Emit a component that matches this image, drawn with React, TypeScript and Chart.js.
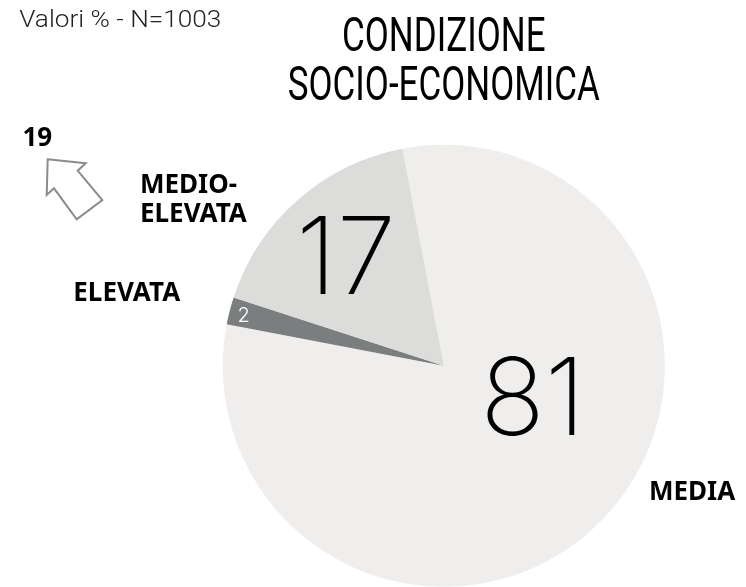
import React, { useEffect, useRef } from "react";
import { Chart, registerables } from "chart.js";

Chart.register(...registerables);

// ---------- data ----------
const categories = ["MEDIA", "ELEVATA", "MEDIO-ELEVATA"];
const values = [81, 2, 17];
const valueLabels = ["81", "2", "17"];
const sliceColors = ["#efeeed", "#7b7e7f", "#dcdcdb"];
const outerLabelLines = [["MEDIA"], ["ELEVATA"], ["MEDIO-", "ELEVATA"]];
const titleLines = ["CONDIZIONE", "SOCIO-ECONOMICA"];
const subtitle = "Valori % - N=1003";
const aggregateLabel = "19"; // MEDIO-ELEVATA + ELEVATA

// ---------- layout (styles/positions) ----------
const valueLabelPlacement = [
  { r: 0.425, shift: -26.4, size: 107, color: "#000000", weight: 160 },
  { r: 0.935, shift: 0, size: 20, color: "#ffffff", weight: 300 },
  { r: 0.67, shift: 0, size: 107, color: "#000000", weight: 160 },
];
const outerLabelPlacement = [
  { dx: 205.2, dy: 134.3 },
  { dx: -370.5, dy: -65 },
  { dx: -303.8, dy: -173 },
];

const FONT_BOLD = '"Noto Sans", "Open Sans", sans-serif';
const FONT_LIGHT = '"Inter", "Roboto", sans-serif';

function drawFitted(
  ctx: CanvasRenderingContext2D,
  text: string,
  x: number,
  y: number,
  sx: number,
  align: "left" | "center"
) {
  const w = ctx.measureText(text).width * sx;
  const left = align === "center" ? x - w / 2 : x;
  ctx.save();
  ctx.translate(left, y);
  ctx.scale(sx, 1);
  ctx.textAlign = "left";
  ctx.fillText(text, 0, 0);
  ctx.restore();
}

const overlayPlugin = {
  id: "overlay",
  afterDraw(chart: any) {
    const ctx: CanvasRenderingContext2D = chart.ctx;
    const meta = chart.getDatasetMeta(0);
    const first: any = meta.data[0];
    const cx = first.x;
    const cy = first.y;
    const R = first.outerRadius;

    ctx.save();
    ctx.textBaseline = "alphabetic";

    meta.data.forEach((arc: any, i: number) => {
      const p = valueLabelPlacement[i];
      const mid = (arc.startAngle + arc.endAngle) / 2 + (p.shift * Math.PI) / 180;
      const x = cx + Math.cos(mid) * R * p.r;
      const y = cy + Math.sin(mid) * R * p.r;
      ctx.font = `${p.weight} ${p.size}px ${FONT_LIGHT}`;
      ctx.fillStyle = p.color;
      const m = ctx.measureText(valueLabels[i]);
      ctx.textAlign = "center";
      ctx.fillText(valueLabels[i], x, y + m.actualBoundingBoxAscent / 2);
    });

    ctx.font = `700 26px ${FONT_BOLD}`;
    ctx.fillStyle = "#000000";
    ctx.textAlign = "left";
    outerLabelLines.forEach((lines, i) => {
      const p = outerLabelPlacement[i];
      lines.forEach((line, j) => {
        ctx.fillText(line, cx + p.dx, cy + p.dy + j * 29.5);
      });
    });

    ctx.fillStyle = "#000000";
    ctx.font = `400 49px "Roboto", sans-serif`;
    const tw = ctx.measureText(titleLines[1]).width;
    const tsx = 312 / tw;
    drawFitted(ctx, titleLines[0], cx, 51, tsx, "center");
    drawFitted(ctx, titleLines[1], cx, 100, tsx, "center");

    ctx.fillStyle = "#222222";
    ctx.font = `300 23px "Roboto", sans-serif`;
    const sw = ctx.measureText(subtitle).width;
    drawFitted(ctx, subtitle, 19.3, 27, 202 / sw, "left");

    ctx.font = `700 26px ${FONT_BOLD}`;
    ctx.fillStyle = "#000000";
    ctx.fillText(aggregateLabel, 22.5, 146);

    ctx.beginPath();
    const pts = [
      [47.7, 159.3],
      [85.7, 163.3],
      [77.7, 170.7],
      [102.3, 200],
      [76.7, 219.3],
      [54, 188.3],
      [46.7, 195],
    ];
    pts.forEach(([x, y], k) => (k === 0 ? ctx.moveTo(x, y) : ctx.lineTo(x, y)));
    ctx.closePath();
    ctx.strokeStyle = "#8a8c8c";
    ctx.lineWidth = 2;
    ctx.stroke();

    ctx.restore();
  },
};

export default function App() {
  const ref = useRef<HTMLCanvasElement | null>(null);

  useEffect(() => {
    if (!ref.current) return;
    const chart = new Chart(ref.current, {
      type: "pie",
      data: {
        labels: categories,
        datasets: [
          {
            data: values,
            backgroundColor: sliceColors,
            borderWidth: 0,
            hoverOffset: 0,
          },
        ],
      },
      options: {
        responsive: false,
        animation: false,
        devicePixelRatio: 1,
        rotation: -10.8,
        layout: {
          padding: { left: 222.8, right: 81.2, top: 144.75, bottom: 0.25 },
        },
        plugins: {
          legend: { display: false },
          tooltip: { enabled: false },
          title: { display: false },
        },
        events: [],
      },
      plugins: [overlayPlugin],
    });
    return () => chart.destroy();
  }, []);

  return (
    <div style={{ position: "absolute", left: 0, top: 0, width: 746, height: 587, background: "#ffffff" }}>
      <canvas ref={ref} width={746} height={587} style={{ display: "block" }} />
    </div>
  );
}
